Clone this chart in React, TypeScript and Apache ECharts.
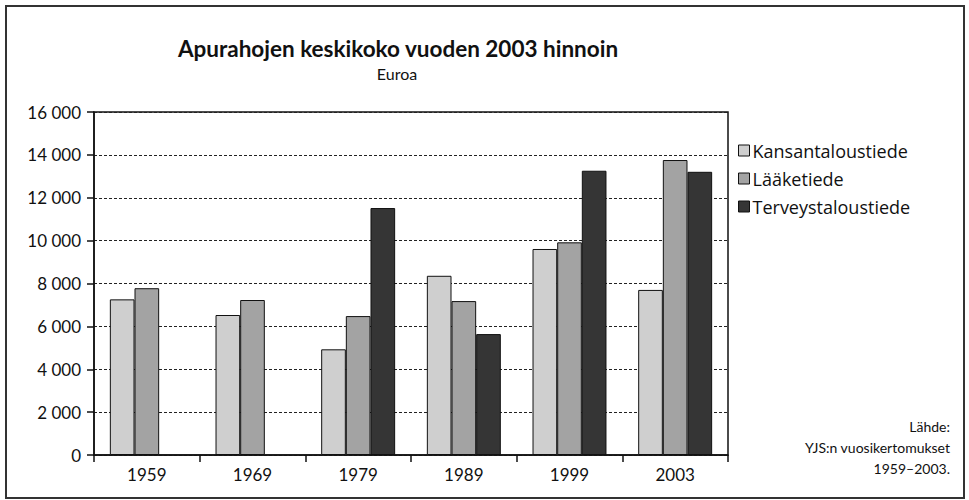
import React, { useEffect, useRef } from "react";
import * as echarts from "echarts";

const categories = ["1959", "1969", "1979", "1989", "1999", "2003"];
const seriesNames = ["Kansantaloustiede", "Lääketiede", "Terveystaloustiede"];
const kansantaloustiede = [7260, 6530, 4930, 8360, 9610, 7700];
const laaketiede = [7780, 7230, 6480, 7180, 9920, 13760];
const terveystaloustiede = [null, null, 11520, 5640, 13260, 13210];
const seriesColors = ["#cfcfcf", "#a3a3a3", "#353535"];
const titleText = "Apurahojen keskikoko vuoden 2003 hinnoin";
const subtitleText = "Euroa";
const sourceLines = ["Lähde:", "YJS:n vuosikertomukset", "1959–2003."];

const FONT = "Lato, 'Open Sans', sans-serif";
const LEGEND_FONT = "'Open Sans', Lato, sans-serif";

function fmt(v: number): string {
  return String(v).replace(/\B(?=(\d{3})+(?!\d))/g, " ");
}

export default function App() {
  const ref = useRef<HTMLDivElement>(null);
  useEffect(() => {
    if (!ref.current) return;
    const chart = echarts.init(ref.current, null, { renderer: "svg" });
    const data = [kansantaloustiede, laaketiede, terveystaloustiede];
    chart.setOption({
      animation: false,
      backgroundColor: "#ffffff",
      textStyle: { fontFamily: FONT },
      grid: {
        left: 94,
        right: 241,
        top: 112,
        bottom: 45,
        show: true,
        borderColor: "#111",
        borderWidth: 1.5,
        containLabel: false,
      },
      legend: {
        orient: "vertical",
        left: 733,
        top: 136,
        itemWidth: 11,
        itemHeight: 11,
        itemGap: 9,
        icon: "rect",
        data: seriesNames,
        itemStyle: { borderColor: "#111", borderWidth: 1 },
        textStyle: {
          fontFamily: LEGEND_FONT,
          fontSize: 18,
          lineHeight: 19,
          color: "#111",
          padding: [0, 0, 0, -2],
        },
      },
      xAxis: {
        type: "category",
        data: categories,
        boundaryGap: true,
        axisLine: { lineStyle: { color: "#111", width: 1.5 } },
        axisTick: { show: true, length: 7, lineStyle: { color: "#111", width: 1.5 } },
        axisLabel: { fontFamily: FONT, fontSize: 17, color: "#111", margin: 11 },
        splitLine: { show: false },
      },
      yAxis: {
        type: "value",
        min: 0,
        max: 16000,
        interval: 2000,
        axisLine: { show: true, lineStyle: { color: "#111", width: 1.5 } },
        axisTick: { show: true, length: 7, lineStyle: { color: "#111", width: 1.5 } },
        axisLabel: {
          fontFamily: FONT,
          fontSize: 17,
          color: "#111",
          margin: 13,
          formatter: (v: number) => fmt(v),
        },
        splitLine: { show: true, lineStyle: { color: "#222", type: [3, 2], width: 1 } },
      },
      series: seriesNames.map((name, i) => ({
        name,
        type: "bar",
        data: data[i],
        barGap: "0%",
        barCategoryGap: "30%",
        itemStyle: { color: seriesColors[i], borderColor: "#111", borderWidth: 1 },
      })),
      graphic: [
        {
          type: "rect",
          shape: { x: 6, y: 6, width: 958, height: 492 },
          style: { fill: "none", stroke: "#333", lineWidth: 2 },
          silent: true,
        },
        {
          type: "text",
          x: 398,
          y: 48,
          style: {
            text: titleText,
            fontFamily: FONT,
            fontSize: 22.5,
            fontWeight: "bold",
            fill: "#111",
            textAlign: "center",
            textVerticalAlign: "middle",
          },
        },
        {
          type: "text",
          x: 397,
          y: 73,
          style: {
            text: subtitleText,
            fontFamily: FONT,
            fontSize: 16,
            fill: "#111",
            textAlign: "center",
            textVerticalAlign: "middle",
          },
        },
        ...sourceLines.map((t, i) => ({
          type: "text",
          x: 950,
          y: 426 + i * 21,
          style: {
            text: t,
            fontFamily: FONT,
            fontSize: 14,
            fill: "#111",
            textAlign: "right",
            textVerticalAlign: "middle",
          },
        })),
      ],
    });
    return () => chart.dispose();
  }, []);
  return (
    <div
      ref={ref}
      style={{ position: "absolute", left: 0, top: 0, width: 969, height: 500 }}
    />
  );
}
